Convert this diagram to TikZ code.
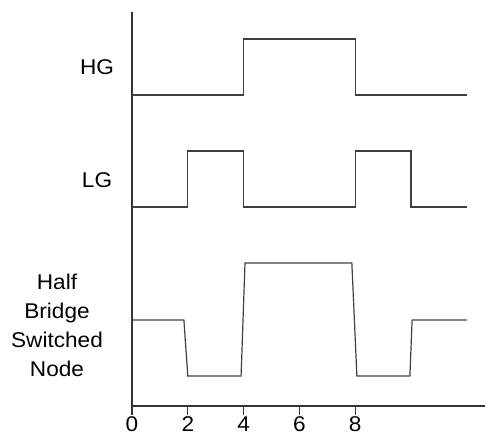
\documentclass[tikz,border=0pt]{standalone}
\usepackage{fontspec}
\setmainfont[FakeStretch=1.06]{Liberation Sans}
\usetikzlibrary{positioning}

\begin{document}
\begin{tikzpicture}[x=20.925pt, y=-0.75pt, font=\fontsize{16}{21.75}\selectfont,
		wave/.style={draw=black!75, line width=0.9pt},
		axis/.style={draw=black!80, line width=0.9pt}]
			\useasboundingbox (-4.731,0) rectangle (12.652,436);

			% axes
			\coordinate (top) at (0,12);
			\coordinate (origin) at (0,406);
			\coordinate (end) at (12.652,406);
			\draw[axis] (top) -- (origin) -- (end);
			\foreach \t in {0,2,4,6,8} {
				\draw[axis] (\t,406) -- (\t,415);
				\node[inner sep=0pt] (t\t) at (\t,424) {\t};
			}

			% signal names
			\node (hg) at (-1.254,67) {HG};
			\node (lg) at (-1.254,180) {LG};
			\node[align=center] (sw) at (-2.688,325) {Half\\Bridge\\Switched\\Node};

			% waveforms
			\draw[wave] (0,95) -- (4,95) -- (4,39) -- (8,39) -- (8,95) -- (12,95);
			\draw[wave] (0,207) -- (2,207) -- (2,151) -- (4,151) -- (4,207)
				-- (8,207) -- (8,151) -- (10,151) -- (10,207) -- (12,207);
			\draw[wave] (0,320) -- (1.86,320) -- (2,376) -- (3.91,376) -- (4.05,263)
				-- (7.88,263) -- (8.06,376) -- (9.96,376) -- (10.04,320) -- (12,320);
		\end{tikzpicture}
\end{document}
